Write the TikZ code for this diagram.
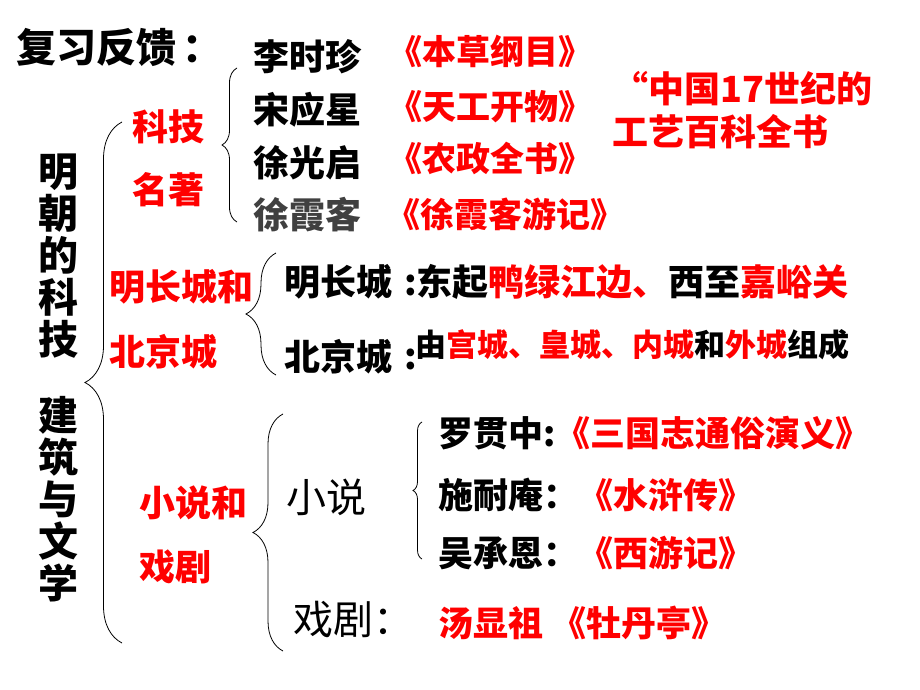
\documentclass[tikz,border=0pt]{standalone}
\usepackage{fontspec}
\usetikzlibrary{decorations.pathreplacing}
\newfontfamily\cjk{Noto Sans CJK SC}
\newcommand{\fs}[1]{\fontsize{#1}{#1}\selectfont}
\newcommand{\hred}[1]{\textcolor{red}{#1}}
\begin{document}
\begin{tikzpicture}[x=1pt,y=1pt]
\tikzstyle{every node}+=[inner sep=0pt, anchor=west]
\tikzstyle{heavy}=[font=\cjk\bfseries\fs{36}]
\tikzstyle{book}=[font=\cjk\bfseries\fs{34}, text=red]
\tikzstyle{plain}=[font=\cjk\fs{40}]
\tikzstyle{vert}=[font=\cjk\bfseries\fontsize{40}{42}\selectfont, align=center, anchor=center]
\tikzstyle{curly}=[line width=0.8pt, decorate]
\useasboundingbox (0,0) rectangle (920,-690);
\node [font=\cjk\bfseries\fs{40}] (review) at (16,-47) {复习反馈\,：};
\node [heavy] (li) at (253,-57) {李时珍};
\node [book] (bencao) at (388,-51) {《本草纲目》};
\node [heavy] (song) at (253,-110) {宋应星};
\node [book] (tiangong) at (388,-107) {《天工开物》};
\node [heavy] (xugq) at (253,-163) {徐光启};
\node [book] (nongzheng) at (388,-158) {《农政全书》};
\node [heavy, text=black!75] (xuxk) at (253,-215) {徐霞客};
\node [book] (youji) at (386,-214) {《徐霞客游记》};
\node [heavy, text=red, align=left] (gongyi) at (612,-110) {“中国17世纪的\\[7pt]工艺百科全书};
\draw [curly, decoration={brace, amplitude=15pt}] (237,-222) -- (237,-68);
\draw [curly, decoration={brace, amplitude=37pt}] (122,-643) -- (122,-122);
\node [vert] (keji) at (58,-256) {明\\朝\\的\\科\\技};
\node [vert] (jianzhu) at (58,-499) {建\\筑\\与\\文\\学};
\node [heavy, text=red] (mingzhu1) at (132,-127) {科技};
\node [heavy, text=red] (mingzhu2) at (132,-190) {名著};
\node [heavy, text=red] (cheng1) at (109,-287) {明长城和};
\node [heavy, text=red] (cheng2) at (109,-352) {北京城};
\draw [curly, decoration={brace, amplitude=30pt}] (276,-375) -- (276,-253);
\node [heavy] (changcheng) at (284,-282) {明长城};
\node [heavy] (dongqi) at (404,-282) {:东起\hred{鸭绿江边、}西至\hred{嘉峪关}};
\node [heavy] (beijing) at (284,-357) {北京城};
\node [heavy] (colon) at (404,-359) {:};
\node [heavy, font=\cjk\bfseries\fs{31}] (gucheng) at (415,-345) {由\hred{宫城、皇城、内城}和\hred{外城}组成};
\draw [curly, decoration={brace, amplitude=30pt}] (283,-651) -- (283,-414);
\node [heavy, text=red] (wenxue1) at (139,-503) {小说和};
\node [heavy, text=red] (wenxue2) at (139,-567) {戏剧};
\node [plain] (xiaoshuo) at (286,-497) {小说};
\node [plain] (xiju) at (293,-620) {戏剧：};
\draw [curly, decoration={brace, amplitude=9pt}] (422,-559) -- (422,-422);
\node [heavy, font=\cjk\bfseries\fs{35}] (luo) at (438,-433) {罗贯中:\hred{《三国志通俗演义》}};
\node [heavy, font=\cjk\bfseries\fs{35}] (shi) at (438,-495) {施耐庵：\hred{《水浒传》}};
\node [heavy, font=\cjk\bfseries\fs{35}] (wu) at (438,-553) {吴承恩：\hred{《西游记》}};
\node [heavy, font=\cjk\bfseries\fs{35}, text=red] (tang) at (438,-623) {汤显祖 《牡丹亭》};
\end{tikzpicture}
\end{document}
